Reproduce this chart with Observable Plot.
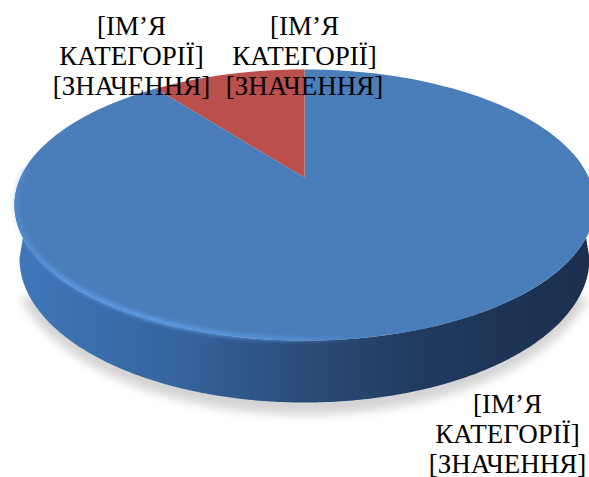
<!DOCTYPE html>
<html>
<head>
<meta charset="utf-8">
<script src="https://cdn.jsdelivr.net/npm/d3@7"></script>
<script src="https://cdn.jsdelivr.net/npm/@observablehq/plot@0.6"></script>
<style>html,body{margin:0;padding:0;background:#fff;overflow:hidden}svg{display:block}
svg text,svg tspan{font-family:"Liberation Serif","Times New Roman",Times,serif !important}</style>
</head>
<body>
<div id="chart"></div>
<script>
// Data
const categories = ["blue", "red"];
const sliceValues = [89.6, 10.4];
const sliceColors = ["#4a7ebb", "#bb4f4c"];
const labelTexts = ["[ІМ’Я\nКАТЕГОРІЇ]\n[ЗНАЧЕННЯ]", "[ІМ’Я\nКАТЕГОРІЇ]\n[ЗНАЧЕННЯ]", "[ІМ’Я\nКАТЕГОРІЇ]\n[ЗНАЧЕННЯ]"];

// Layout
const W = 589, H = 477;
const labelAnchorX = [131, 304, 507];
const labelAnchorY = [55, 55, 433];
const disk = {cx: 304, cy: 177, a: 284, b: 130, k: 0.203};
const base = {cx: 304, cy: 258, rx: 285, ry: 144};

const top3d = t => {
  const w = 1 + disk.k * Math.cos(t);
  return [disk.cx + disk.a * Math.sin(t) / w, disk.cy - disk.b * Math.cos(t) / w];
};
const arcPts = (t0, t1, f, n = 240) => d3.range(n + 1).map(i => f(t0 + (t1 - t0) * i / n));
const pt = (id, p) => ({id, x: p[0], y: p[1]});
const basePt = (rx, ry, dy = 0) => t => [base.cx + rx * Math.sin(t), base.cy + dy - ry * Math.cos(t)];

const arcs = d3.pie().sort(null)(sliceValues);
const slices = arcs.map((d, i) => [
  pt(categories[i], [disk.cx, disk.cy]),
  ...arcPts(d.startAngle, d.endAngle, top3d).map(p => pt(categories[i], p))
]);

const topRightT = Math.PI / 2 - 0.2, topLeftT = 3 * Math.PI / 2 + 0.2;
const sidePoly = [
  ...arcPts(3 * Math.PI / 2, Math.PI / 2, basePt(base.rx, base.ry)),
  ...arcPts(topRightT, topLeftT, top3d)
].map(p => pt("side", p));
const shadowPoly = arcPts(3 * Math.PI / 2 - 0.25, Math.PI / 2 + 0.25, basePt(base.rx + 8, base.ry + 12, 0)).map(p => pt("shadow", p));
const rimPoly = arcPts(Math.PI - 0.2, 3 * Math.PI / 2 + 0.05, t => {
  const p = top3d(t);
  return [disk.cx + (p[0] - disk.cx) * 0.996, p[1] - 1];
}).map(p => pt("rim", p));

const gradients = () => {
  const svg = d3.create("svg:g");
  const defs = svg.append("defs");
  const add = (id, stops) => {
    const g = defs.append("linearGradient").attr("id", id)
      .attr("gradientUnits", "userSpaceOnUse").attr("x1", 14).attr("x2", 588).attr("y1", 0).attr("y2", 0);
    stops.forEach(([o, c, a]) => g.append("stop").attr("offset", o).attr("stop-color", c).attr("stop-opacity", a ?? 1));
  };
  add("sideFill", [[0, "#3f78bb"], [0.12, "#3b6fae"], [0.3, "#35639c"], [0.5, "#2b4c79"], [0.72, "#203a5e"], [1, "#1c2f4e"]]);
  add("rimStroke", [[0, "#62a6f0", 0.3], [0.08, "#62a6f0", 0.8], [0.25, "#62a6f0", 1], [0.45, "#62a6f0", 0.6], [0.62, "#62a6f0", 0]]);
  return svg.node();
};

const chart = Plot.plot({
  width: W, height: H,
  margin: 0,
  x: {domain: [0, W], range: [0, W], axis: null},
  y: {domain: [0, H], range: [0, H], axis: null},
  style: {background: "#fff"},
  marks: [
    gradients,
    Plot.line(shadowPoly, {x: "x", y: "y", z: "id", fill: "#d4d4d4", stroke: "none", imageFilter: "blur(5px)"}),
    Plot.line(sidePoly, {x: "x", y: "y", z: "id", fill: "url(#sideFill)", stroke: "none"}),
    ...slices.map((s, i) => Plot.line(s, {x: "x", y: "y", z: "id", fill: sliceColors[i], stroke: "none"})),
    Plot.line(rimPoly, {x: "x", y: "y", z: "id", fill: "none", stroke: "url(#rimStroke)", strokeWidth: 4, imageFilter: "blur(2px)"}),
    Plot.text(labelTexts, {
      x: (d, i) => labelAnchorX[i],
      y: (d, i) => labelAnchorY[i],
      text: d => d,
      fontFamily: "Liberation Serif",
      fontSize: 27,
      lineHeight: 1.11,
      fill: "#000",
      textAnchor: "middle",
      lineAnchor: "middle"
    })
  ]
});
document.getElementById("chart").append(chart);
</script>
</body>
</html>
